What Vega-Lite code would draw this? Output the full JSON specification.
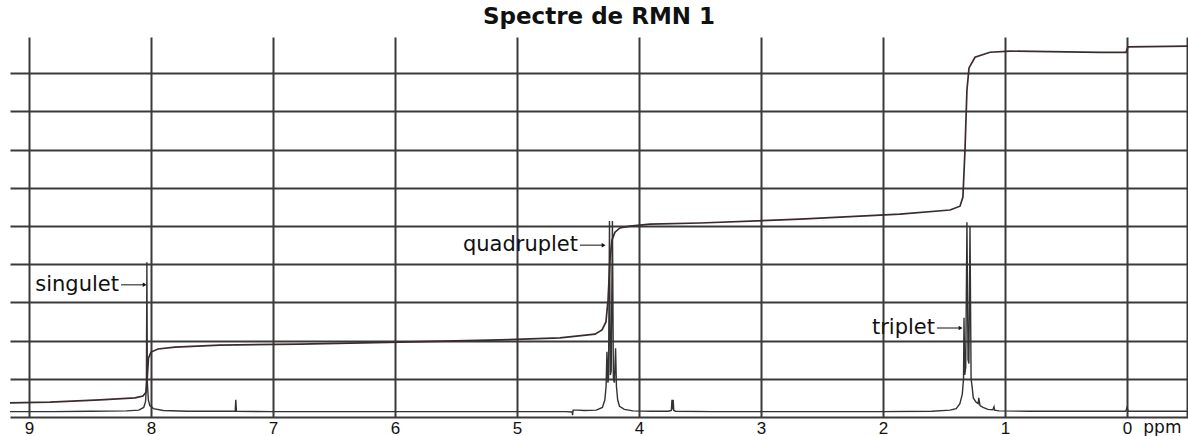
{
  "$schema": "https://vega.github.io/schema/vega-lite/v6.json",
  "width": 1178,
  "height": 380,
  "autosize": {"type": "none"},
  "padding": {"left": 10, "top": 37, "right": 0, "bottom": 19},
  "background": "white",
  "title": {"text": "Spectre de RMN 1", "font": "DejaVu Sans", "fontSize": 23, "fontWeight": "bold", "color": "#111111", "offset": 8},
  "config": {"view": {"stroke": null}},
  "datasets": {
    "spectrum": [
      {"ppm": 9.156, "v": 0.14}, {"ppm": 8.8, "v": 0.14}, {"ppm": 8.5, "v": 0.15}, {"ppm": 8.2, "v": 0.16},
      {"ppm": 8.1, "v": 0.18}, {"ppm": 8.06, "v": 0.25}, {"ppm": 8.045, "v": 0.4}, {"ppm": 8.038, "v": 0.8},
      {"ppm": 8.034, "v": 4.05}, {"ppm": 8.03, "v": 0.9}, {"ppm": 8.022, "v": 0.45}, {"ppm": 8.01, "v": 0.3},
      {"ppm": 7.98, "v": 0.22}, {"ppm": 7.9, "v": 0.17}, {"ppm": 7.7, "v": 0.15}, {"ppm": 7.31, "v": 0.15},
      {"ppm": 7.305, "v": 0.45}, {"ppm": 7.3, "v": 0.15}, {"ppm": 7.0, "v": 0.14}, {"ppm": 6.5, "v": 0.14},
      {"ppm": 6.0, "v": 0.14}, {"ppm": 5.5, "v": 0.14}, {"ppm": 5.0, "v": 0.14}, {"ppm": 4.6, "v": 0.14},
      {"ppm": 4.548, "v": 0.13}, {"ppm": 4.545, "v": 0.05}, {"ppm": 4.54, "v": 0.18}, {"ppm": 4.5, "v": 0.18},
      {"ppm": 4.45, "v": 0.17}, {"ppm": 4.35, "v": 0.18}, {"ppm": 4.3, "v": 0.25}, {"ppm": 4.28, "v": 0.45},
      {"ppm": 4.27, "v": 0.8}, {"ppm": 4.263, "v": 1.71}, {"ppm": 4.255, "v": 0.9}, {"ppm": 4.25, "v": 1.0},
      {"ppm": 4.242, "v": 5.13}, {"ppm": 4.235, "v": 1.1}, {"ppm": 4.228, "v": 1.2}, {"ppm": 4.218, "v": 5.13},
      {"ppm": 4.21, "v": 1.0}, {"ppm": 4.202, "v": 0.9}, {"ppm": 4.192, "v": 1.8}, {"ppm": 4.185, "v": 0.8},
      {"ppm": 4.175, "v": 0.45}, {"ppm": 4.16, "v": 0.28}, {"ppm": 4.12, "v": 0.2}, {"ppm": 4.05, "v": 0.16},
      {"ppm": 3.9, "v": 0.15}, {"ppm": 3.76, "v": 0.15}, {"ppm": 3.735, "v": 0.17}, {"ppm": 3.73, "v": 0.45},
      {"ppm": 3.725, "v": 0.2}, {"ppm": 3.72, "v": 0.45}, {"ppm": 3.715, "v": 0.17}, {"ppm": 3.7, "v": 0.15},
      {"ppm": 3.4, "v": 0.14}, {"ppm": 3.0, "v": 0.14}, {"ppm": 2.5, "v": 0.14}, {"ppm": 2.0, "v": 0.14},
      {"ppm": 1.6, "v": 0.15}, {"ppm": 1.45, "v": 0.18}, {"ppm": 1.4, "v": 0.22}, {"ppm": 1.37, "v": 0.35},
      {"ppm": 1.35, "v": 0.6}, {"ppm": 1.34, "v": 1.0}, {"ppm": 1.336, "v": 2.6}, {"ppm": 1.33, "v": 1.1},
      {"ppm": 1.322, "v": 1.3}, {"ppm": 1.312, "v": 5.1}, {"ppm": 1.303, "v": 1.5}, {"ppm": 1.296, "v": 1.4},
      {"ppm": 1.287, "v": 5.0}, {"ppm": 1.278, "v": 1.0}, {"ppm": 1.27, "v": 0.8}, {"ppm": 1.26, "v": 0.5},
      {"ppm": 1.24, "v": 0.4}, {"ppm": 1.22, "v": 0.35}, {"ppm": 1.215, "v": 0.5}, {"ppm": 1.205, "v": 0.3},
      {"ppm": 1.18, "v": 0.25}, {"ppm": 1.14, "v": 0.2}, {"ppm": 1.1, "v": 0.19}, {"ppm": 1.09, "v": 0.27},
      {"ppm": 1.085, "v": 0.18}, {"ppm": 1.05, "v": 0.16}, {"ppm": 0.8, "v": 0.15}, {"ppm": 0.4, "v": 0.15},
      {"ppm": 0.01, "v": 0.15}, {"ppm": 0.0, "v": 0.25}, {"ppm": -0.01, "v": 0.15}, {"ppm": -0.5, "v": 0.15}
    ],
    "integral": [
      {"ppm": 9.156, "v": 0.37}, {"ppm": 8.828, "v": 0.39}, {"ppm": 8.418, "v": 0.45}, {"ppm": 8.131, "v": 0.5},
      {"ppm": 8.066, "v": 0.55}, {"ppm": 8.041, "v": 0.65}, {"ppm": 8.029, "v": 1.13}, {"ppm": 8.021, "v": 1.54},
      {"ppm": 8.0, "v": 1.7}, {"ppm": 7.943, "v": 1.78}, {"ppm": 7.804, "v": 1.83}, {"ppm": 7.435, "v": 1.88},
      {"ppm": 6.779, "v": 1.91}, {"ppm": 5.959, "v": 1.96}, {"ppm": 5.14, "v": 2.02}, {"ppm": 4.648, "v": 2.07},
      {"ppm": 4.361, "v": 2.17}, {"ppm": 4.303, "v": 2.28}, {"ppm": 4.271, "v": 2.49}, {"ppm": 4.254, "v": 3.06},
      {"ppm": 4.238, "v": 4.11}, {"ppm": 4.222, "v": 4.63}, {"ppm": 4.197, "v": 4.84}, {"ppm": 4.156, "v": 4.95},
      {"ppm": 4.074, "v": 5.0}, {"ppm": 3.91, "v": 5.05}, {"ppm": 3.5, "v": 5.08}, {"ppm": 2.681, "v": 5.18},
      {"ppm": 1.861, "v": 5.31}, {"ppm": 1.451, "v": 5.42}, {"ppm": 1.369, "v": 5.52}, {"ppm": 1.345, "v": 5.76},
      {"ppm": 1.328, "v": 6.99}, {"ppm": 1.312, "v": 8.56}, {"ppm": 1.295, "v": 9.14}, {"ppm": 1.246, "v": 9.42},
      {"ppm": 1.123, "v": 9.55}, {"ppm": 0.959, "v": 9.58}, {"ppm": 0.221, "v": 9.55}, {"ppm": 0.008, "v": 9.55},
      {"ppm": -0.008, "v": 9.69}, {"ppm": -0.5, "v": 9.71}
    ],
    "notes": [
      {"label": "singulet", "ppm": 8.263, "a1": 8.246, "a2": 8.052, "v": 3.46},
      {"label": "quadruplet", "ppm": 4.5, "a1": 4.484, "a2": 4.29, "v": 4.5},
      {"label": "triplet", "ppm": 1.574, "a1": 1.558, "a2": 1.364, "v": 2.33}
    ],
    "unit": [{"label": "ppm", "ppm": -0.29, "v": -0.42}]
  },
  "encoding": {
    "x": {
      "field": "ppm", "type": "quantitative",
      "scale": {"domain": [-0.5, 9.156], "reverse": true, "nice": false, "zero": false},
      "axis": {
        "orient": "bottom", "values": [9, 8, 7, 6, 5, 4, 3, 2, 1, 0, -0.49],
        "labelExpr": "datum.value < 0 ? '' : format(datum.value, 'd')",
        "grid": true, "gridColor": "#3a3a3a", "gridWidth": 2, "gridOpacity": 1,
        "ticks": false, "domainColor": "#3a3a3a", "domainWidth": 2,
        "labelFont": "Liberation Sans", "labelFontSize": 17, "labelColor": "#111111",
        "labelPadding": 3, "labelFlush": false, "labelOverlap": false, "title": null
      }
    },
    "y": {
      "field": "v", "type": "quantitative",
      "scale": {"domain": [0, 9.95], "nice": false, "zero": false},
      "axis": {
        "values": [1, 2, 3, 4, 5, 6, 7, 8, 9], "grid": true, "gridColor": "#3a3a3a",
        "gridWidth": 2, "gridOpacity": 1, "labels": false, "ticks": false, "domain": false, "title": null
      }
    }
  },
  "layer": [
    {"data": {"name": "spectrum"}, "mark": {"type": "line", "color": "#333333", "strokeWidth": 1.4}},
    {"data": {"name": "integral"}, "mark": {"type": "line", "color": "#3d2b2b", "strokeWidth": 1.7}},
    {"data": {"name": "notes"}, "mark": {"type": "text", "align": "right", "baseline": "middle", "font": "DejaVu Sans", "fontSize": 21, "color": "#111111"},
     "encoding": {"text": {"field": "label"}}},
    {"data": {"name": "notes"}, "mark": {"type": "rule", "color": "#111111", "strokeWidth": 1},
     "encoding": {"x": {"field": "a1", "type": "quantitative"}, "x2": {"field": "a2"}}},
    {"data": {"name": "notes"}, "mark": {"type": "point", "shape": "triangle-right", "filled": true, "size": 20, "color": "#111111", "opacity": 1},
     "encoding": {"x": {"field": "a2", "type": "quantitative"}}},
    {"data": {"name": "unit"}, "mark": {"type": "text", "align": "center", "baseline": "alphabetic", "font": "DejaVu Sans", "fontSize": 17, "color": "#111111"},
     "encoding": {"text": {"field": "label"}}}
  ]
}
